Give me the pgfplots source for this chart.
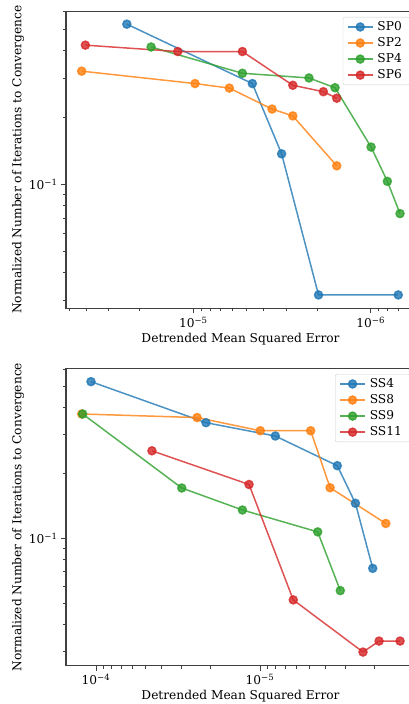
\documentclass[border=0pt]{standalone}
\usepackage{fontspec}
\setmainfont{DejaVu Serif}
\usepackage{pgfplots}
\pgfplotsset{compat=1.18}

\definecolor{tabblue}{HTML}{1F77B4}
\definecolor{taborange}{HTML}{FF7F0E}
\definecolor{tabgreen}{HTML}{2CA02C}
\definecolor{tabred}{HTML}{D62728}

\pgfplotsset{
    dmse/.style={
        scale only axis,
        anchor=south west,
        width=349pt,
        axis line style={line width=1.1pt, black!75},
        every tick/.style={line width=0.9pt, black!75},
        tick align=outside,
        tick pos=left,
        major tick length=5pt,
        minor tick length=3pt,
        ytick={0.1},
        yticklabels={10\textsuperscript{−1}},
        minor ytick={0.03,0.04,0.05,0.06,0.07,0.08,0.09,0.2,0.3,0.4,0.5,0.6},
        xlabel={Detrended Mean Squared Error},
        ylabel={Normalized Number of Iterations to Convergence},
        every axis x label/.style={at={(axis description cs:0.5,0)}, yshift=-30.7pt, anchor=center},
        every axis y label/.style={at={(axis description cs:0,0.5)}, xshift=-48pt, rotate=90, anchor=center},
        legend cell align=left,
        legend style={
            at={(1,1)}, anchor=north east,
            xshift=-5pt, yshift=-5.7pt,
            draw=black!20, rounded corners=2pt,
            fill=white, fill opacity=0.8, text opacity=1,
            inner xsep=4pt, inner ysep=3.5pt,
            row sep=3.5pt,
            nodes={inner xsep=4pt, inner ysep=1pt},
        },
        legend image code/.code={
            \draw[mark repeat=2, mark phase=2, ##1]
                plot coordinates {(0pt,0pt) (12.5pt,0pt) (25pt,0pt)};
        },
        every axis plot/.append style={line width=1.5pt, mark=*, mark size=4pt, opacity=0.8},
    },
}

\begin{document}
\begin{tikzpicture}[font=\fontsize{12.2}{14.6}\selectfont]
\useasboundingbox (0,0) rectangle (409pt,704pt);

% top panel
\begin{axis}[
    xmode=log, ymode=log, x dir=reverse,
    dmse,
    at={(66pt,395.7pt)},
    height=297pt,
    xmin=5.63e-7, xmax=5.22e-5,
    ymin=0.0276, ymax=0.601,
    xtick={1e-6,1e-5},
    xticklabels={10\textsuperscript{−6}, 10\textsuperscript{−5}},
    minor xtick={6e-7,7e-7,8e-7,9e-7,2e-6,3e-6,4e-6,5e-6,6e-6,7e-6,8e-6,9e-6,2e-5,3e-5,4e-5,5e-5},
]
% SP0
\addplot[color=tabblue] coordinates {
    (2.37e-5,0.526) (4.65e-6,0.284) (3.18e-6,0.137) (1.97e-6,0.0317) (7.0e-7,0.0317)
};
% SP2
\addplot[color=taborange] coordinates {
    (4.26e-5,0.323) (9.78e-6,0.284) (6.27e-6,0.271) (3.60e-6,0.218) (2.75e-6,0.203) (1.555e-6,0.121)
};
% SP4
\addplot[color=tabgreen] coordinates {
    (1.73e-5,0.415) (5.29e-6,0.316) (2.23e-6,0.301) (1.59e-6,0.272) (9.96e-7,0.147) (8.06e-7,0.103) (6.84e-7,0.0737)
};
% SP6
\addplot[color=tabred] coordinates {
    (4.06e-5,0.423) (1.224e-5,0.396) (5.29e-6,0.396) (2.75e-6,0.279) (1.85e-6,0.261) (1.555e-6,0.244)
};
\legend{SP0, SP2, SP4, SP6}
\end{axis}

% bottom panel
\begin{axis}[
    xmode=log, ymode=log, x dir=reverse,
    dmse,
    at={(66pt,38.3pt)},
    height=297.4pt,
    xmin=1.135e-6, xmax=1.524e-4,
    ymin=0.02587, ymax=0.6072,
    xtick={1e-5,1e-4},
    xticklabels={10\textsuperscript{−5}, 10\textsuperscript{−4}},
    minor xtick={2e-6,3e-6,4e-6,5e-6,6e-6,7e-6,8e-6,9e-6,2e-5,3e-5,4e-5,5e-5,6e-5,7e-5,8e-5,9e-5},
]
% SS4
\addplot[color=tabblue] coordinates {
    (1.073e-4,0.527) (2.135e-5,0.341) (8.07e-6,0.296) (3.38e-6,0.216) (2.62e-6,0.145) (2.055e-6,0.0727)
};
% SS8
\addplot[color=taborange] coordinates {
    (1.223e-4,0.374) (2.42e-5,0.360) (9.96e-6,0.313) (4.91e-6,0.313) (3.74e-6,0.171) (1.71e-6,0.117)
};
% SS9
\addplot[color=tabgreen] coordinates {
    (1.206e-4,0.374) (3.0e-5,0.1705) (1.28e-5,0.135) (4.45e-6,0.107) (3.24e-6,0.0574)
};
% SS11
\addplot[color=tabred] coordinates {
    (4.56e-5,0.253) (1.167e-5,0.177) (6.27e-6,0.052) (2.355e-6,0.0299) (1.88e-6,0.0336) (1.40e-6,0.0336)
};
\legend{SS4, SS8, SS9, SS11}
\end{axis}
\end{tikzpicture}
\end{document}
